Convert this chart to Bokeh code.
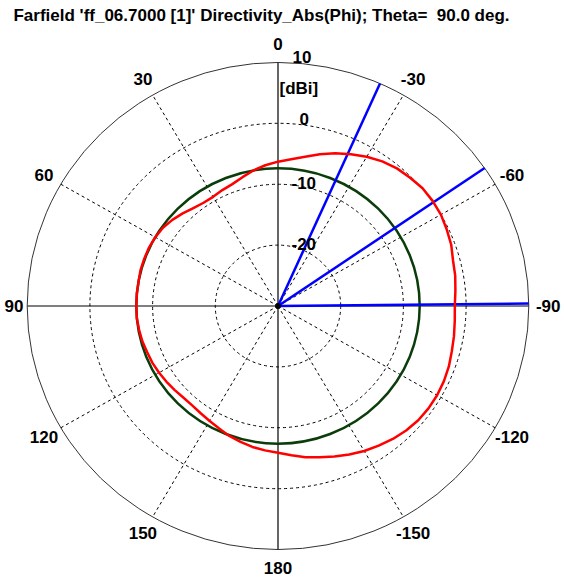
import numpy as np
from bokeh.plotting import figure
from bokeh.core.properties import value
from bokeh.embed import file_html
from bokeh.resources import INLINE

# ---------------- data ----------------
title_text = "Farfield 'ff_06.7000 [1]' Directivity_Abs(Phi); Theta=\u00a0 90.0 deg."
r_min_db = -30.0          # value at the centre
r_max_db = 10.0           # value at the outer circle
radial_ticks = [-20, -10, 0, 10]
radial_tick_labels = ["-20", "-10", "0", "10"]
radial_unit = "[dBi]"
angle_ticks = [0, 30, 60, 90, 120, 150, 180, -150, -120, -90, -60, -30]
angle_tick_labels = ["0", "30", "60", "90", "120", "150", "180", "-150", "-120", "-90", "-60", "-30"]

phi_deg = [0, 5, 10, 15, 20, 25, 30, 35, 40, 45, 50, 55, 60, 65, 70, 75, 80, 85,
           90, 95, 100, 105, 110, 115, 120, 125, 130, 135, 140, 145, 150, 155, 160, 165,
           170, 175, 180, -175, -170, -165, -160, -155, -150, -145, -140, -135, -130,
           -125, -120, -115, -110, -105, -100, -95, -90, -85, -80, -75, -70, -65, -60,
           -55, -50, -45, -40, -35, -30, -25, -20, -15, -10, -5, 0]
directivity_db = [-6.3, -6.8, -7.4, -8.1, -8.7, -9.0, -9.3, -9.3, -9.0, -8.5, -8.0, -7.6,
                  -7.4, -7.3, -7.3, -7.3, -7.4, -7.4, -7.4, -7.4, -7.5, -7.6, -7.8, -7.9,
                  -8.1, -8.3, -8.5, -8.7, -8.7, -8.5, -8.2, -7.8, -7.3, -6.9, -6.5, -6.2,
                  -5.9, -5.4, -4.8, -4.3, -3.7, -3.1, -2.5, -2.0, -1.5, -1.1, -0.8, -0.7,
                  -0.7, -0.8, -1.0, -1.3, -1.5, -1.7, -1.8, -1.6, -1.3, -1.1, -0.6, -0.3,
                  0.0, 0.1, 0.1, -0.2, -0.5, -1.0, -1.7, -2.5, -3.3, -4.2, -5.1, -5.8, -6.3]
reference_db = -7.4                       # green reference circle
blue_dirs_deg = [-89.4, -55.5, -24.0]     # main lobe / angular width lines

# ---------------- layout ----------------
W, H = 564, 582
cx_px, cy_px = 277.5, 305.5
sx, sy = 6.27, 6.09   # px per dB
x_range = (-cx_px / sx, (W - cx_px) / sx)
y_range = (-(H - cy_px) / sy, cy_px / sy)

p = figure(width=W, height=H, x_range=x_range, y_range=y_range,
           output_backend="svg", toolbar_location=None, min_border=0,
           outline_line_color=None, background_fill_color="white")
p.axis.visible = False
p.grid.visible = False

R = r_max_db - r_min_db

def pol(phi, db):
    phi = np.radians(np.asarray(phi, dtype=float))
    r = np.asarray(db, dtype=float) - r_min_db
    return -r * np.sin(phi), r * np.cos(phi)

# dashed circles
for t in radial_ticks[:-1]:
    rr = t - r_min_db
    p.ellipse(x=0, y=0, width=2 * rr, height=2 * rr, fill_color=None,
              line_color="black", line_width=1, line_dash="3 3")
# dashed radial lines
rad_angles = [a for a in angle_ticks if a % 90 != 0]
ex, ey = pol(rad_angles, [r_max_db] * len(rad_angles))
p.segment(x0=[0] * len(rad_angles), y0=[0] * len(rad_angles), x1=ex, y1=ey,
          line_color="black", line_width=1, line_dash="3 3")
# solid axes
p.segment(x0=[-R, 0], y0=[0, -R], x1=[R, 0], y1=[0, R], line_color="black", line_width=1.2)
# outer circle
p.ellipse(x=0, y=0, width=2 * R, height=2 * R, fill_color=None,
          line_color="#333333", line_width=1)

# green reference circle
rg = reference_db - r_min_db
p.ellipse(x=0, y=0, width=2 * rg, height=2 * rg, fill_color=None,
          line_color="#0b3d0b", line_width=2.5)

# blue lines
bx, by = pol(blue_dirs_deg, [r_max_db] * len(blue_dirs_deg))
p.segment(x0=[0] * 3, y0=[0] * 3, x1=bx, y1=by, line_color="#0000ff", line_width=2.5)

# red curve
x, y = pol(phi_deg, directivity_db)
p.line(x, y, line_color="#ff0000", line_width=2.5, line_join="round")

p.scatter([0], [0], size=5, color="black")

font = value("Liberation Sans")
FS = "17px"
# angle labels (label ring radius, a little tighter at +/-90 so the text fits)
ring = [r_min_db + (42.1 if a == 90 else 43.1) for a in angle_ticks]
lx, ly = pol(angle_ticks, ring)
p.text(x=lx, y=ly, text=angle_tick_labels, text_font=font, text_font_style="bold",
       text_font_size=FS, text_align="center", text_baseline="middle", text_color="black")

# radial labels
rl_x = [(291 - cx_px) / sx, (291 - cx_px) / sx, (299 - cx_px) / sx, (292 - cx_px) / sx]
rl_y = [(cy_px - 243) / sy, (cy_px - 182) / sy, (cy_px - 118) / sy, (cy_px - 56) / sy]
p.text(x=rl_x, y=rl_y, text=radial_tick_labels, text_font=font, text_font_style="bold",
       text_font_size=FS, text_align="left", text_baseline="middle", text_color="black")
p.text(x=[(279 - cx_px) / sx], y=[(cy_px - 88) / sy], text=[radial_unit], text_font=font,
       text_font_style="bold", text_font_size=FS, text_align="left",
       text_baseline="middle", text_color="black")

# title
p.text(x=[(261 - cx_px) / sx], y=[(cy_px - 15) / sy], text=[title_text], text_font=font,
       text_font_style="bold", text_font_size="17px", text_align="center",
       text_baseline="middle", text_color="black")

open("out.html", "w").write(file_html(p, INLINE))
